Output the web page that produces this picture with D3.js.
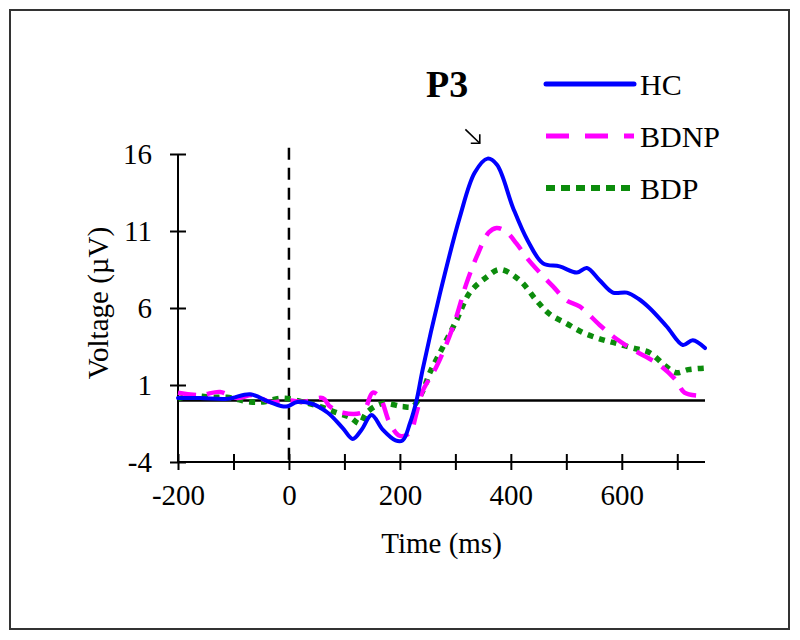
<!DOCTYPE html>
<html>
<head>
<meta charset="utf-8">
<script src="https://cdn.jsdelivr.net/npm/d3@7"></script>
<style>
  body { margin: 0; background: #fff; }
  svg { display: block; }
  text { font-family: "Liberation Serif", "Times New Roman", serif; fill: #000; }
</style>
</head>
<body>
<svg id="chart" width="800" height="640"></svg>
<script>
// ERP waveforms (time in ms, voltage in uV)
var hcTime = [-200, -160, -110, -70, -35, -5, 15, 40, 70, 97, 115, 131, 149, 169, 192, 205, 218, 230, 241, 272, 308, 335, 358, 375, 404, 430, 458, 488, 519, 537, 560, 584, 609, 630, 650, 681, 710, 728, 750];
var hcVolt = [0.15, 0.15, 0.1, 0.4, -0.1, -0.4, -0.1, -0.2, -0.8, -1.8, -2.5, -1.9, -0.95, -1.9, -2.6, -2.6, -1.5, 0, 2.0, 6.9, 11.9, 14.8, 15.7, 15.3, 12.5, 10.4, 8.9, 8.7, 8.3, 8.6, 7.8, 7.0, 7.0, 6.6, 6.0, 4.8, 3.6, 3.9, 3.4];

var bdnpTime = [-200, -160, -124, -94, -65, -34, 2, 25, 61, 74, 97, 133, 151, 164, 182, 200, 218, 230, 241, 266, 296, 320, 338, 360, 374, 390, 410, 430, 452, 476, 500, 524, 560, 590, 620, 668, 698, 713, 740, 750];
var bdnpVolt = [0.5, 0.35, 0.55, 0.15, 0.35, -0.1, 0, -0.1, 0.15, -0.4, -0.8, -0.75, 0.5, 0.2, -1.5, -2.3, -2.1, -0.8, 0.6, 2.2, 4.8, 7.6, 9.3, 10.9, 11.2, 11.0, 10.2, 9.2, 8.3, 7.4, 6.5, 6.1, 4.9, 4.0, 3.3, 2.3, 1.3, 0.5, 0.3, 0.3];

var bdpTime = [-200, -178, -137, -112, -70, -47, -11, 25, 56, 86, 110, 128, 140, 169, 205, 223, 241, 254, 278, 302, 326, 356, 380, 416, 446, 470, 500, 530, 560, 590, 620, 650, 680, 698, 720, 750];
var bdpVolt = [0.1, 0.3, 0.2, 0.2, -0.1, -0.1, 0.15, -0.1, -0.4, -0.8, -1.1, -1.5, -0.8, -0.2, -0.4, -0.4, 0.6, 1.8, 3.5, 5.2, 7.0, 8.0, 8.5, 7.8, 6.5, 5.6, 5.0, 4.4, 4.0, 3.7, 3.4, 3.1, 2.2, 1.8, 2.0, 2.1];

var groups = ["HC", "BDNP", "BDP"];
var xTicks = [-200, -100, 0, 100, 200, 300, 400, 500, 600, 700];
var yTicks = [-4, 1, 6, 11, 16];

var svg = d3.select("#chart");

// frame
svg.append("rect")
  .attr("x", 10).attr("y", 10)
  .attr("width", 779).attr("height", 619)
  .attr("fill", "none")
  .attr("stroke", "#333")
  .attr("stroke-width", 2);

var x = d3.scaleLinear().domain([-200, 750]).range([178, 705]);
var y = d3.scaleLinear().domain([-4, 16]).range([462, 154]);

// x axis, ticks crossing the line
var gx = svg.append("g")
  .attr("transform", "translate(0," + y(-4) + ")")
  .call(d3.axisBottom(x).tickValues(xTicks).tickSize(8).tickSizeOuter(0)
    .tickFormat(function (d) { return d % 200 === 0 ? String(d) : ""; }));
gx.select(".domain").attr("stroke", "#000").attr("stroke-width", 2).attr("d", "M" + x(-200) + ",0H" + x(750));
gx.selectAll(".tick line").attr("y1", -8).attr("y2", 8).attr("stroke", "#000").attr("stroke-width", 2);
gx.selectAll(".tick text").attr("y", 22).attr("dy", "0.71em").style("font-size", "29px").style("font-family", "'Liberation Serif', serif");

// y axis
var gy = svg.append("g")
  .attr("transform", "translate(" + x(-200) + ",0)")
  .call(d3.axisLeft(y).tickValues(yTicks).tickSize(8).tickSizeOuter(0)
    .tickFormat(function (d) { return String(d); }));
gy.select(".domain").attr("stroke", "#000").attr("stroke-width", 2).attr("d", "M0," + y(-4) + "V" + y(16));
gy.selectAll(".tick line").attr("x1", -8).attr("x2", 8).attr("stroke", "#000").attr("stroke-width", 2);
gy.selectAll(".tick text").attr("x", -26).style("font-size", "29px").style("font-family", "'Liberation Serif', serif");

// zero line and stimulus onset
svg.append("line")
  .attr("x1", x(-200)).attr("x2", x(750))
  .attr("y1", y(0)).attr("y2", y(0))
  .attr("stroke", "#000").attr("stroke-width", 2.5);

svg.append("line")
  .attr("x1", x(0)).attr("x2", x(0))
  .attr("y1", y(16.4)).attr("y2", y(-4))
  .attr("stroke", "#000").attr("stroke-width", 2.5)
  .attr("stroke-dasharray", "12,8");

// waveforms
var line = d3.line()
  .x(function (d) { return x(d[0]); })
  .y(function (d) { return y(d[1]); })
  .curve(d3.curveCatmullRom.alpha(0.5));

var series = [
  { name: "HC", t: hcTime, v: hcVolt, color: "#0000ff", dash: null, legendDash: null, w: 4 },
  { name: "BDNP", t: bdnpTime, v: bdnpVolt, color: "#ff00ff", dash: "18,11", legendDash: "23,16", w: 4.5 },
  { name: "BDP", t: bdpTime, v: bdpVolt, color: "#0c8c0c", dash: "6,6", legendDash: "9,6", w: 5.5 }
];

// draw BDP first so the solid HC stays on top
series.slice().reverse().forEach(function (s) {
  svg.append("path")
    .datum(d3.zip(s.t, s.v))
    .attr("fill", "none")
    .attr("stroke", s.color)
    .attr("stroke-width", s.w)
    .attr("stroke-linejoin", "round")
    .attr("stroke-linecap", s.dash ? "butt" : "round")
    .attr("stroke-dasharray", s.dash)
    .attr("d", line);
});

// legend
var legend = svg.append("g").attr("transform", "translate(546,84)");
series.forEach(function (s, i) {
  var row = legend.append("g").attr("transform", "translate(0," + (i * 52) + ")");
  row.append("line")
    .attr("x1", 0).attr("x2", 88)
    .attr("stroke", s.color)
    .attr("stroke-width", s.name === "BDP" ? 6 : 5)
    .attr("stroke-linecap", s.legendDash ? "butt" : "round")
    .attr("stroke-dasharray", s.legendDash);
  row.append("text")
    .attr("x", 94).attr("y", 11)
    .style("font-size", "30px")
    .text(groups[i]);
});

// P3 annotation
svg.append("text")
  .attr("x", 426).attr("y", 97)
  .style("font-size", "38px")
  .style("font-weight", "bold")
  .text("P3");

var ax0 = x(318), ay0 = y(17.6), ax1 = x(344), ay1 = y(16.7);
svg.append("line")
  .attr("x1", ax0).attr("y1", ay0).attr("x2", ax1).attr("y2", ay1)
  .attr("stroke", "#000").attr("stroke-width", 1.6);
svg.append("path")
  .attr("d", "M" + (ax1 - 9) + "," + ay1 + "H" + ax1 + "V" + (ay1 - 9))
  .attr("fill", "none").attr("stroke", "#000").attr("stroke-width", 1.6);

// axis titles
svg.append("text")
  .attr("x", (x(-200) + x(750)) / 2).attr("y", 553)
  .attr("text-anchor", "middle")
  .style("font-size", "29px")
  .text("Time (ms)");

svg.append("text")
  .attr("transform", "translate(108," + 303 + ") rotate(-90)")
  .attr("text-anchor", "middle")
  .style("font-size", "29px")
  .text("Voltage (\u00b5V)");
</script>
</body>
</html>
